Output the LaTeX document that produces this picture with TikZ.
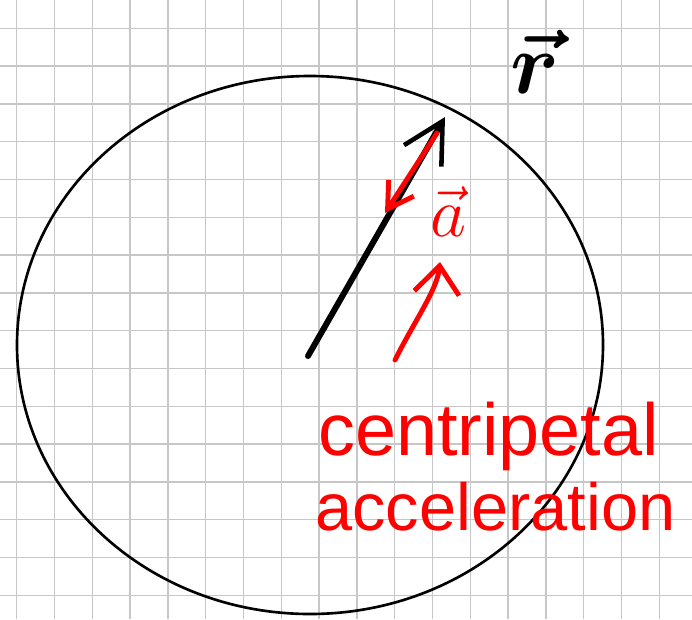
\documentclass[tikz,border=0pt]{standalone}
\usepackage{fontspec}
\newfontfamily\handfont{Liberation Sans}
\usetikzlibrary{arrows.meta}

\begin{document}
\begin{tikzpicture}[
  x=0.02cm, y=-0.02cm,
  gridline/.style={draw=black!22, line width=0.7pt},
  orbit/.style={draw, line width=1.5pt},
  rvec/.style={line width=3.4pt, line cap=round,
               -{Straight Barb[length=0.8cm, width=0.86cm, line width=2.6pt]}},
  avec/.style={red, line width=2.8pt, line cap=round},
  note/.style={red, inner sep=0pt}
]
\useasboundingbox (0,0) rectangle (692,619);

% squared paper
\foreach \gx in {0,...,17}
  \draw[gridline] ({16.7+37.8*\gx},0) -- ({16.7+37.8*\gx},619);
\foreach \gy in {0,...,15}
  \draw[gridline] (0,{28.3+37.8*\gy}) -- (692,{28.3+37.8*\gy});

\coordinate (O) at (310,345);
\draw[orbit] (O) ellipse [x radius=293, y radius=269];

% position vector
\coordinate (tail) at (308,356);
\coordinate (tip) at (445,117);
\draw[rvec] (tail) -- (tip);
\node[font=\Huge\boldmath, scale=2] (rlabel) at (535,62) {$\vec r$};

% acceleration points inward
\coordinate (a1) at (437,133);
\coordinate (a2) at (385,213);
\draw[avec, -{Straight Barb[length=0.5cm, width=0.6cm]}] (a1) -- (a2);
\node[red, font=\Huge, scale=1.6] (alabel) at (448,212) {$\vec a$};

\coordinate (c1) at (395,360);
\coordinate (c2) at (440,262);
\draw[avec, -{Straight Barb[length=0.55cm, width=0.9cm]}]
  (c1) .. controls (415,320) and (437,290) .. (c2);

\node[note, font=\handfont\fontsize{42}{48}\selectfont, anchor=base west]
  (cp) at (318,455) {centripetal};
\node[note, font=\handfont\fontsize{38}{46}\selectfont, anchor=base west]
  (acc) at (315,530) {acceleration};
\end{tikzpicture}
\end{document}
